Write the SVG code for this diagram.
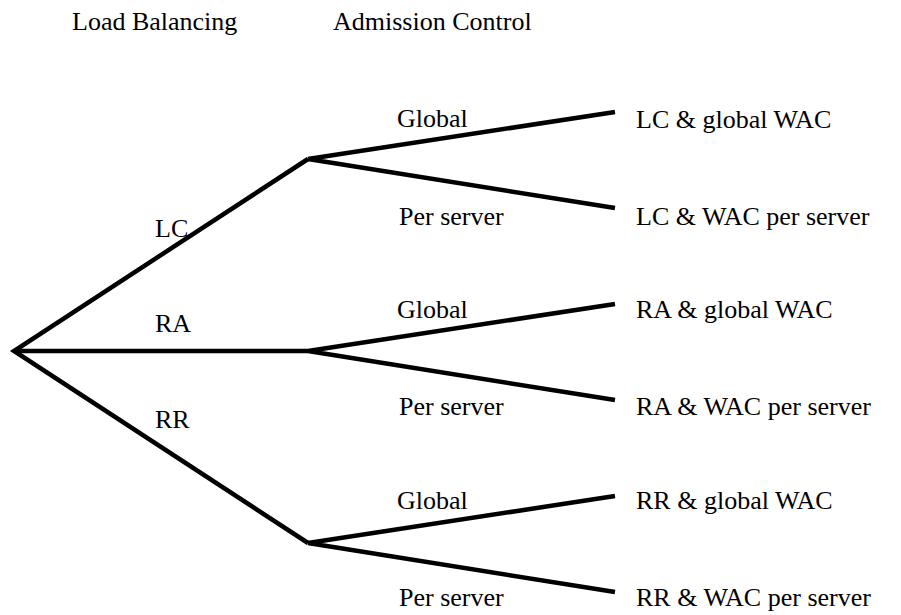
<svg xmlns="http://www.w3.org/2000/svg" width="901" height="615" viewBox="0 0 901 615">
<style>
text{font-size:26px;fill:#000}
.e{stroke:#000;stroke-width:4.5;fill:none;stroke-linejoin:miter;stroke-linecap:butt}
</style>
<rect width="901" height="615" fill="#fff"/>
<g font-family="Liberation Serif, Times New Roman, DejaVu Serif, serif">
<g id="headers">
<text x="72" y="30">Load Balancing</text>
<text x="333" y="30">Admission Control</text>
</g>
<g id="connectors">
<polyline class="e" points="308,159 14,351 308,543"/>
<line class="e" x1="14" y1="351" x2="308" y2="351"/>
<polyline class="e" points="615,112 308,159 615,208"/>
<polyline class="e" points="615,304 308,351 615,400"/>
<polyline class="e" points="615,496 308,543 615,592"/>
</g>
<g id="edge-labels">
<text x="155" y="237">LC</text>
<text x="155" y="332">RA</text>
<text x="155" y="428">RR</text>
<text x="397" y="127">Global</text>
<text x="399" y="225">Per server</text>
<text x="397" y="318">Global</text>
<text x="399" y="415">Per server</text>
<text x="397" y="509">Global</text>
<text x="399" y="606">Per server</text>
</g>
<g id="node-lc-global"><text x="636" y="128">LC &amp; global WAC</text></g>
<g id="node-lc-per"><text x="636" y="225">LC &amp; WAC per server</text></g>
<g id="node-ra-global"><text x="636" y="318">RA &amp; global WAC</text></g>
<g id="node-ra-per"><text x="636" y="415">RA &amp; WAC per server</text></g>
<g id="node-rr-global"><text x="636" y="509">RR &amp; global WAC</text></g>
<g id="node-rr-per"><text x="636" y="606">RR &amp; WAC per server</text></g>
</g>
</svg>
